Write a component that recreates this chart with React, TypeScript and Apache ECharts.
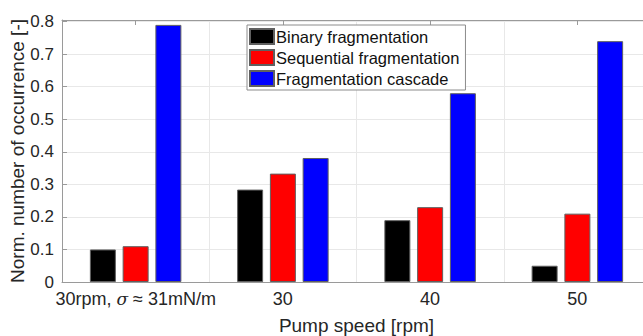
import React, { useEffect, useRef } from "react";
import * as echarts from "echarts";

// Pump-speed conditions (first one is the reduced surface-tension case)
const categories = ["30rpm, σ ≈ 31mN/m", "30", "40", "50"];

// Normalized number of occurrence per fragmentation type
const binaryFragmentation = [0.1, 0.284, 0.19, 0.05];
const sequentialFragmentation = [0.11, 0.333, 0.23, 0.21];
const fragmentationCascade = [0.79, 0.381, 0.58, 0.74];

const seriesNames = [
  "Binary fragmentation",
  "Sequential fragmentation",
  "Fragmentation cascade",
];
const seriesColors = ["#000000", "#ff0000", "#0000ff"];

const FONT = "'Liberation Sans', Arial, sans-serif";
const TEXT = "#262626";
const AXIS = "#9a9a9a";

export default function App() {
  const ref = useRef<HTMLDivElement>(null);

  useEffect(() => {
    document.body.style.margin = "0";
    if (!ref.current) return;
    const chart = echarts.init(ref.current, undefined, { renderer: "svg" });

    const seriesData = [binaryFragmentation, sequentialFragmentation, fragmentationCascade];

    const tick = { show: true, inside: true, alignWithLabel: true, length: 5, lineStyle: { color: AXIS } };

    chart.setOption({
      animation: false,
      backgroundColor: "#ffffff",
      textStyle: { fontFamily: FONT },
      grid: {
        left: 62,
        top: 20,
        width: 589,
        height: 262,
        show: false,
        containLabel: false,
        outerBoundsMode: "none",
      },
      legend: {
        orient: "vertical",
        left: 247,
        top: 25,
        padding: [3, 6, 3, 2],
        itemWidth: 24,
        itemHeight: 15,
        itemGap: 4,
        icon: "rect",
        backgroundColor: "#ffffff",
        borderColor: "#8c8c8c",
        borderWidth: 1,
        textStyle: { fontFamily: FONT, fontSize: 16.5, color: "#111", padding: [0, 0, 0, -3] },
        data: seriesNames,
      },
      xAxis: [
        {
          type: "category",
          data: categories,
          position: "bottom",
          boundaryGap: true,
          name: "Pump speed [rpm]",
          nameLocation: "middle",
          nameGap: 34,
          nameMoveOverlap: false,
          nameTextStyle: { fontFamily: FONT, fontSize: 19, color: TEXT },
          axisLine: { show: true, lineStyle: { color: AXIS, width: 1 } },
          axisTick: tick,
          axisLabel: {
            interval: 0,
            margin: 8,
            fontFamily: FONT,
            fontSize: 18,
            color: TEXT,
            formatter: (v: string) =>
              v.includes("σ")
                ? v
                    .split("σ")
                    .map((p) => (p ? `{a|${p}}` : ""))
                    .join("{s|σ}")
                : v,
            rich: {
              a: { fontFamily: FONT, fontSize: 18, color: TEXT },
              s: { fontFamily: "'DejaVu Serif', serif", fontStyle: "italic", fontSize: 17, color: TEXT },
            },
          },
          splitLine: { show: true, interval: 0, lineStyle: { color: "#e8e8e8", width: 1 } },
        },
        {
          type: "category",
          data: categories,
          position: "top",
          boundaryGap: true,
          axisLine: { show: true, lineStyle: { color: AXIS, width: 1 } },
          axisTick: tick,
          axisLabel: { show: false },
          splitLine: { show: false },
        },
      ],
      yAxis: {
        type: "value",
        min: 0,
        max: 0.805,
        interval: 0.1,
        name: "Norm. number of occurrence [-]",
        nameLocation: "middle",
        nameGap: 35,
        nameMoveOverlap: false,
        nameTextStyle: { fontFamily: FONT, fontSize: 19, color: TEXT },
        axisLine: { show: true, lineStyle: { color: AXIS, width: 1 } },
        axisTick: { show: true, inside: true, length: 5, lineStyle: { color: AXIS } },
        axisLabel: {
          margin: 8,
          fontFamily: FONT,
          fontSize: 17,
          color: TEXT,
          showMaxLabel: false,
          formatter: (v: number) => (Math.round(v * 10) / 10).toString(),
        },
        splitLine: { show: true, lineStyle: { color: "#e8e8e8", width: 1 } },
      },
      series: seriesNames.map((name, i) => ({
        name,
        type: "bar",
        xAxisIndex: 0,
        data: seriesData[i],
        barWidth: 26,
        barGap: "26%",
        itemStyle: { color: seriesColors[i], borderColor: "#606060", borderWidth: 1 },
      })),
    });

    return () => chart.dispose();
  }, []);

  return <div ref={ref} style={{ width: 643, height: 336 }} />;
}
